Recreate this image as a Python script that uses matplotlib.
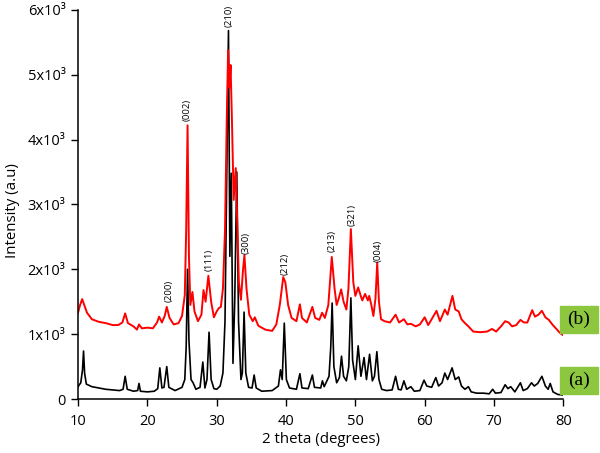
import matplotlib
matplotlib.use('Agg')
import matplotlib.pyplot as plt
from matplotlib.patches import Rectangle

plt.rcParams['font.family'] = ['Open Sans', 'DejaVu Sans']

# pattern (a), black
x_a = [10.0, 10.4, 10.65, 10.8, 10.95, 11.2, 12.0, 13.0, 14.0, 15.0, 16.0, 16.5, 16.8, 17.1,
       18.0, 18.6, 18.8, 19.0, 20.0, 21.0, 21.5, 21.8, 22.1, 22.4, 22.8, 23.1, 24.0, 25.0,
       25.4, 25.6, 25.8, 26.0, 26.3, 26.6, 27.0, 27.6, 28.0, 28.3, 28.6, 28.9, 29.2, 29.6,
       30.0, 30.5, 30.9, 31.2, 31.45, 31.7, 31.9, 32.1, 32.35, 32.6, 32.9, 33.15, 33.5, 33.7,
       33.95, 34.2, 34.6, 35.1, 35.4, 35.7, 36.5, 38.0, 38.9, 39.2, 39.45, 39.75, 40.05, 40.5,
       41.5, 42.0, 42.3, 43.2, 43.8, 44.1, 45.0, 45.25, 45.5, 46.2, 46.45, 46.65, 46.9, 47.3,
       47.7, 48.0, 48.3, 48.7, 49.05, 49.35, 49.6, 50.0, 50.4, 50.8, 51.25, 51.6, 52.05, 52.45,
       52.75, 53.1, 53.4, 53.8, 54.5, 55.3, 55.8, 56.2, 56.6, 57.0, 57.4, 58.0, 58.5, 59.3,
       59.9, 60.3, 61.0, 61.6, 62.0, 62.5, 62.9, 63.3, 63.95, 64.4, 64.9, 65.3, 65.8, 66.3,
       66.7, 67.5, 68.5, 69.3, 69.8, 70.2, 71.0, 71.6, 72.0, 72.4, 73.0, 73.8, 74.2, 74.8,
       75.4, 75.8, 76.3, 76.9, 77.4, 77.8, 78.1, 78.5, 79.2, 80.0]
y_a = [190, 250, 450, 740, 400, 230, 190, 170, 150, 140, 130, 150, 350, 150,
       120, 130, 240, 120, 110, 120, 160, 480, 170, 180, 500, 180, 130, 180,
       300, 800, 2000, 900, 300, 250, 150, 180, 570, 170, 300, 1030, 300, 160,
       150, 200, 400, 1200, 3500, 5680, 2200, 3480, 550, 1500, 3500, 1200, 300, 400,
       1340, 400, 180, 170, 370, 170, 120, 130, 200, 450, 300, 1170, 300, 170,
       150, 390, 170, 160, 370, 180, 170, 280, 190, 350, 800, 1480, 500, 250,
       330, 660, 350, 280, 500, 1560, 600, 300, 820, 350, 640, 300, 690, 280,
       350, 730, 300, 150, 130, 140, 350, 150, 140, 280, 150, 190, 120, 130,
       290, 200, 180, 330, 200, 250, 400, 300, 480, 300, 340, 200, 150, 190,
       110, 90, 90, 80, 150, 90, 100, 220, 160, 190, 110, 250, 130, 160,
       250, 200, 240, 350, 200, 150, 240, 110, 70, 60]

# pattern (b), red
x_b = [10.0, 10.3, 10.6, 10.9, 11.3, 12.0, 13.0, 14.0, 15.0, 15.8, 16.4, 16.8, 17.2, 18.0,
       18.5, 18.8, 19.2, 20.0, 20.8, 21.4, 21.7, 22.1, 22.5, 22.8, 23.2, 23.8, 24.5, 25.0,
       25.4, 25.6, 25.8, 26.0, 26.2, 26.5, 26.8, 27.3, 27.8, 28.1, 28.4, 28.8, 29.2, 29.6,
       30.0, 30.3, 30.6, 30.9, 31.2, 31.45, 31.65, 31.85, 32.0, 32.2, 32.45, 32.75, 33.0, 33.2,
       33.5, 33.8, 34.0, 34.3, 34.7, 35.2, 35.5, 36.0, 37.0, 38.0, 38.6, 39.1, 39.6, 39.9,
       40.3, 40.8, 41.5, 42.0, 42.3, 43.0, 43.8, 44.2, 44.8, 45.2, 45.6, 46.1, 46.6, 47.0,
       47.3, 47.6, 47.95, 48.3, 48.7, 49.0, 49.35, 49.7, 50.0, 50.4, 50.8, 51.0, 51.4, 51.8,
       52.0, 52.3, 52.6, 52.9, 53.15, 53.4, 53.7, 54.2, 55.0, 55.8, 56.3, 57.0, 57.5, 58.0,
       58.7, 59.3, 60.0, 60.5, 61.0, 61.7, 62.2, 62.6, 62.9, 63.3, 64.0, 64.4, 64.9, 65.3,
       65.8, 66.3, 67.0, 68.0, 69.0, 69.7, 70.3, 71.0, 71.6, 72.1, 72.6, 73.2, 73.8, 74.3,
       74.8, 75.5, 75.9, 76.4, 76.9, 77.4, 77.9, 78.4, 79.0, 79.5, 80.0]
y_b = [1330, 1450, 1540, 1450, 1330, 1230, 1190, 1170, 1140, 1140, 1180, 1320, 1170, 1120,
       1070, 1150, 1090, 1100, 1090, 1180, 1270, 1180, 1280, 1420, 1250, 1150, 1170, 1280,
       1600, 2600, 4220, 2200, 1450, 1650, 1350, 1200, 1300, 1680, 1500, 1900, 1500, 1260,
       1350, 1400, 1420, 1700, 2600, 4300, 5380, 4800, 5150, 4300, 3070, 3560, 2600, 1800,
       1530, 2000, 2220, 1700, 1300, 1200, 1260, 1130, 1070, 1050, 1150, 1450, 1880, 1800,
       1450, 1250, 1200, 1460, 1250, 1180, 1420, 1250, 1220, 1330, 1250, 1450, 2190, 1700,
       1450, 1550, 1690, 1500, 1380, 1700, 2620, 1800, 1590, 1720, 1580, 1520, 1620, 1520,
       1590, 1450, 1280, 1550, 2100, 1500, 1230, 1200, 1180, 1300, 1180, 1230, 1150, 1160,
       1120, 1150, 1260, 1140, 1230, 1360, 1200, 1300, 1380, 1300, 1590, 1380, 1350, 1230,
       1170, 1120, 1040, 1030, 1040, 1080, 1040, 1120, 1200, 1180, 1120, 1140, 1220, 1180,
       1180, 1370, 1270, 1300, 1360, 1260, 1220, 1150, 1080, 1020, 980]

# peak labels: (text, 2theta, y of label bottom)
hkl = ['(200)', '(002)', '(111)', '(210)', '(300)', '(212)', '(213)', '(321)', '(004)']
hkl_x = [23.1, 25.8, 28.9, 31.8, 34.2, 39.9, 46.65, 49.55, 53.3]
hkl_y = [1490, 4290, 1970, 5740, 2240, 1910, 2270, 2670, 2120]

yticks = [0, 1000, 2000, 3000, 4000, 5000, 6000]
ytick_labels = ['0', '1x10³', '2x10³', '3x10³', '4x10³', '5x10³', '6x10³']

fig = plt.figure(figsize=(6, 4.53), dpi=100)
ax = fig.add_axes([0.13, 0.1192, 0.809, 0.859])

ax.plot(x_a, y_a, color='black', lw=1.2)
ax.plot(x_b, y_b, color='#ff0000', lw=1.4)

for t, x, y in zip(hkl, hkl_x, hkl_y):
    ax.text(x, y, t, rotation=90, ha='center', va='bottom', fontsize=6.8)

ax.set_xlim(10, 80)
ax.set_ylim(0, 6000)
ax.set_xticks([10, 20, 30, 40, 50, 60, 70, 80])
ax.set_yticks(yticks)
ax.set_yticklabels(ytick_labels)
ax.tick_params(direction='out', length=5, width=1, labelsize=10.5, pad=4)
ax.tick_params(axis='x', pad=6)
ax.spines['top'].set_visible(False)
ax.spines['right'].set_visible(False)
ax.spines['left'].set_linewidth(1.1)
ax.spines['bottom'].set_linewidth(1.1)
ax.set_xlabel('2 theta (degrees)', fontsize=10.8)
ax.set_ylabel('Intensity (a.u)', fontsize=10.8)
ax.xaxis.set_label_coords(0.5, -0.085)
ax.yaxis.set_label_coords(-0.12, 0.485)

# green sample tags at the right edge
green = '#8dc63f'
for lab, top in [('(b)', 306), ('(a)', 367)]:
    fig.patches.append(Rectangle((560 / 600, 1 - (top + 27) / 453), 38 / 600, 27 / 453,
                                 transform=fig.transFigure, color=green, zorder=5))
    fig.text(579 / 600, 1 - (top + 13.5) / 453, lab, ha='center', va='center',
             fontsize=14, family='Liberation Serif', zorder=6)

fig.savefig('out.png', dpi=100)
